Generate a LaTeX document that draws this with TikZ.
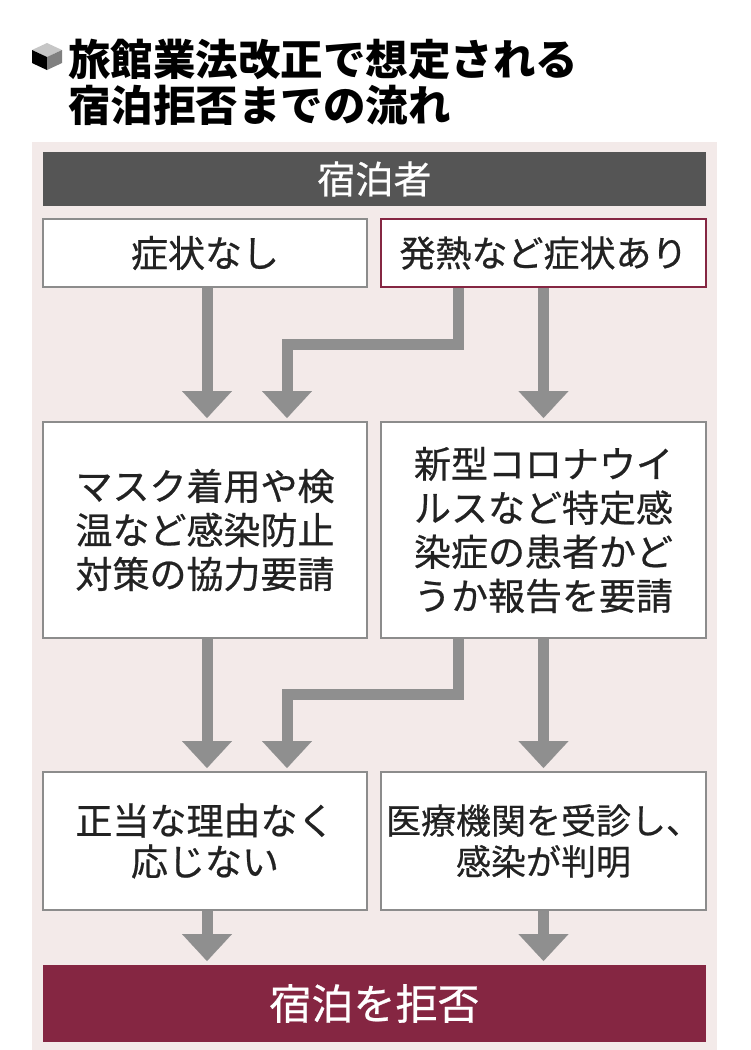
\documentclass[tikz,border=0pt]{standalone}
\usepackage{fontspec}
\setmainfont{Noto Sans CJK JP}
\newfontfamily\boxfont{Noto Sans CJK JP}[FakeBold=0.6]
\usepackage{tikz}
\usetikzlibrary{arrows.meta,positioning}
\usepackage{xcolor}
\definecolor{rgpink}{RGB}{243,234,233}
\definecolor{rgdark}{RGB}{85,85,85}
\definecolor{rgline}{RGB}{140,140,140}
\definecolor{rgarrow}{RGB}{143,143,143}
\definecolor{rgmaroon}{RGB}{133,38,66}
\definecolor{rgtext}{RGB}{34,34,34}
\tikzstyle{box} = [draw=rgline, line width=2.5pt, fill=white, text=rgtext, align=center, inner sep=0pt, outer sep=0pt, font=\boxfont\fontsize{37}{44}\selectfont]
\tikzstyle{bar} = [text=white, inner sep=0pt, outer sep=0pt, minimum width=663pt]
\tikzstyle{flow} = [line width=11pt, draw=rgarrow, -{Triangle[width=50pt,length=27pt,line width=0.1pt]}, shorten >=4pt, shorten <=1pt]

\begin{document}
\begin{tikzpicture}[x=1pt, y=-1pt]
\useasboundingbox (0,0) rectangle (750,1050);
\fill[rgpink] (32,142) rectangle (717,1050);

% title with cube mark
\fill[gray!45] (47,43) -- (62,50) -- (47,57) -- (32,50) -- cycle;
\fill[black] (32,50) -- (47,57) -- (47,70) -- (32,63) -- cycle;
\fill[gray] (62,50) -- (47,57) -- (47,70) -- (62,63) -- cycle;
\node[anchor=base west, inner sep=0pt, font=\bfseries\fontsize{42.5}{45}\selectfont] (title1) at (68,75) {旅館業法改正で想定される};
\node[anchor=base west, inner sep=0pt, font=\bfseries\fontsize{42.5}{45}\selectfont] (title2) at (68,121) {宿泊拒否までの流れ};

\node[bar, fill=rgdark, minimum height=54pt, font=\boxfont\fontsize{38}{38}\selectfont] (guest) at (374.5,179) {宿泊者};
\node[box, minimum width=324pt, minimum height=68pt] (nosym) at (205,253) {症状なし};
\node[box, draw=rgmaroon, minimum width=325pt, minimum height=68pt, font=\boxfont\fontsize{36}{36}\selectfont] (fever) at (543.5,253) {発熱など症状あり};

\node[box, minimum width=324pt, minimum height=216pt] (mask) at (205,530) {マスク着用や検\\温など感染防止\\対策の協力要請};
\node[box, minimum width=325pt, minimum height=216pt] (report) at (543.5,530) {新型コロナウイ\\ルスなど特定感\\染症の患者かど\\うか報告を要請};

\node[box, minimum width=324pt, minimum height=138pt, font=\boxfont\fontsize{37}{41}\selectfont] (refuse) at (205,841) {正当な理由なく\\応じない};
\node[box, minimum width=325pt, minimum height=138pt, font=\boxfont\fontsize{35}{41}\selectfont] (infect) at (543.5,841) {医療機関を受診し、\\感染が判明};

\node[bar, fill=rgmaroon, minimum height=77pt, font=\boxfont\fontsize{42}{42}\selectfont] (deny) at (374.5,1003.5) {宿泊を拒否};

\draw[flow] ([xshift=2pt]nosym.south) -- ([xshift=2pt]mask.north);
\draw[flow] ([xshift=-85.5pt]fever.south) -- ++(0pt,-57pt) -| ([xshift=82pt]mask.north);
\draw[flow] (fever.south) -- (report.north);

\draw[flow] ([xshift=2pt]mask.south) -- ([xshift=2pt]refuse.north);
\draw[flow] ([xshift=-85.5pt]report.south) -- ++(0pt,-56pt) -| ([xshift=82pt]refuse.north);
\draw[flow] (report.south) -- (infect.north);

\draw[flow] ([xshift=2pt]refuse.south) -- ([xshift=2pt]refuse.south |- deny.north);
\draw[flow] (infect.south) -- (infect.south |- deny.north);
\end{tikzpicture}
\end{document}
